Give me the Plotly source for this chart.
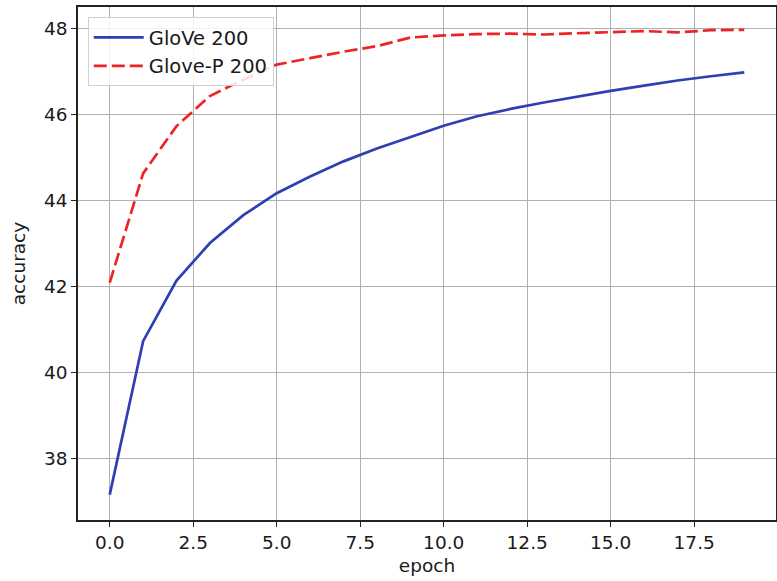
import plotly.graph_objects as go

epochs = list(range(20))
glove_200 = [37.15, 40.72, 42.13, 43.0, 43.65, 44.16, 44.55, 44.9, 45.2, 45.47,
             45.73, 45.95, 46.12, 46.27, 46.41, 46.54, 46.66, 46.78, 46.88, 46.97]
glove_p_200 = [42.08, 44.62, 45.72, 46.42, 46.8, 47.15, 47.3, 47.45, 47.58, 47.78,
               47.83, 47.86, 47.87, 47.85, 47.88, 47.91, 47.93, 47.9, 47.95, 47.96]
x_ticks = [0.0, 2.5, 5.0, 7.5, 10.0, 12.5, 15.0, 17.5]
y_ticks = [38, 40, 42, 44, 46, 48]

FONT = "DejaVu Sans"
TXT = "#1a1a1a"

fig = go.Figure()
fig.add_trace(go.Scatter(x=epochs, y=glove_200, mode="lines", name="GloVe 200",
                         line=dict(color="#2f3fb3", width=2.7)))
fig.add_trace(go.Scatter(x=epochs, y=glove_p_200, mode="lines", name="Glove-P 200",
                         line=dict(color="#ee2424", width=2.7, dash="13px,5px")))

axis_common = dict(showgrid=True, gridcolor="#b0b0b0", gridwidth=1.2,
                   showline=True, linecolor="#222222", linewidth=1.5, mirror=True,
                   ticks="outside", ticklen=5, tickwidth=1.3, tickcolor="#222222",
                   zeroline=False, automargin=False,
                   tickfont=dict(family=FONT, size=18.5, color=TXT))

fig.update_xaxes(range=[-0.95, 19.95], tickvals=x_ticks,
                 ticktext=[f"{v:.1f}" for v in x_ticks],
                 title=dict(text="epoch", font=dict(family=FONT, size=18.5, color=TXT), standoff=7),
                 **axis_common)
fig.update_yaxes(range=[36.56, 48.49], tickvals=y_ticks,
                 title=dict(text="accuracy", font=dict(family=FONT, size=18.5, color=TXT), standoff=14),
                 **axis_common)

fig.update_layout(
    width=777, height=581, autosize=False,
    margin=dict(l=78, r=1, t=7, b=61),
    paper_bgcolor="white", plot_bgcolor="white",
    font=dict(family=FONT, size=18.5, color=TXT),
    legend=dict(x=0.014, y=0.98, xanchor="left", yanchor="top",
                bgcolor="rgba(255,255,255,0.85)", bordercolor="#d0d0d0", borderwidth=1,
                font=dict(family=FONT, size=19.5, color=TXT), itemwidth=50,
                tracegroupgap=2),
    showlegend=True,
)

post = """
document.body.style.margin = '0';
document.body.style.padding = '0';
document.documentElement.style.overflow = 'hidden';
var gd = document.getElementById('{plot_id}');
Plotly.relayout(gd, {width: 777, height: 581});
"""

fig.write_html("out.html", post_script=post,
               config={"responsive": False, "displayModeBar": False})
